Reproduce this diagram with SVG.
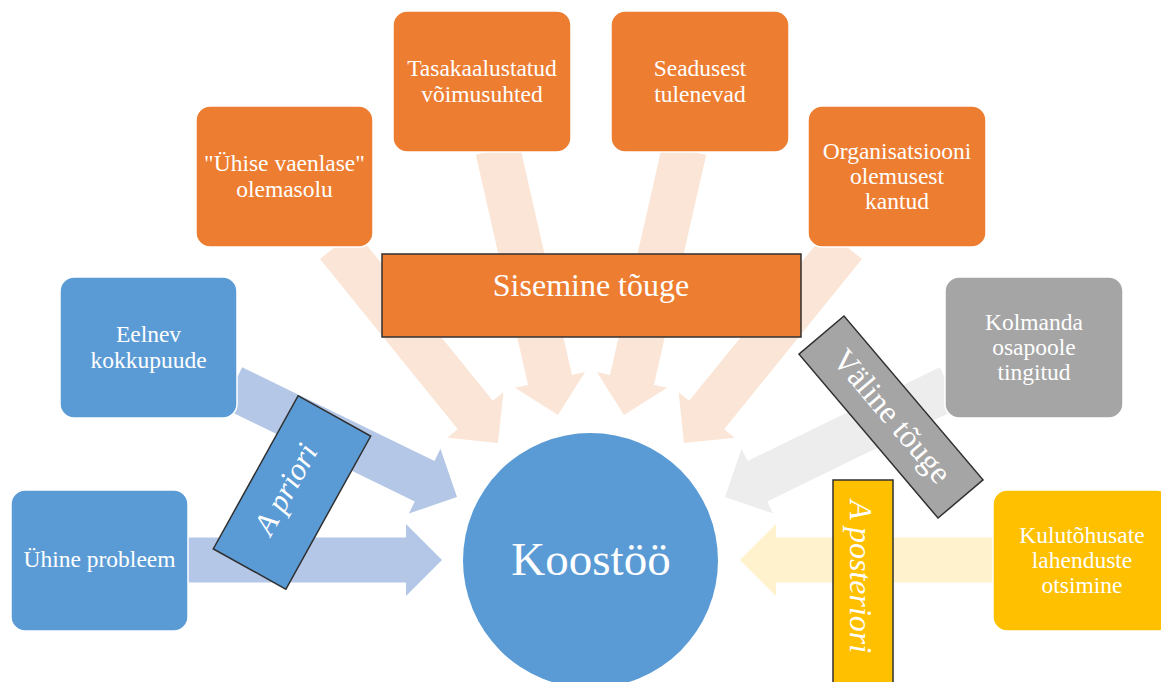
<svg xmlns="http://www.w3.org/2000/svg" width="1161" height="682" viewBox="0 0 1161 682">
  <defs>
    <style>
      .box { stroke: #ffffff; stroke-width: 1.5; }
      .blue { fill: #5B9BD5; }
      .orange { fill: #ED7D31; }
      .gray { fill: #A5A5A5; }
      .yellow { fill: #FFC000; }
      .lbl { font-family: "Liberation Serif", "Times New Roman", serif; fill: #ffffff; font-size: 23.5px; text-anchor: middle; }
      .tag { stroke: #303030; stroke-width: 1.5; }
      .tagtext { font-family: "Liberation Serif", "Times New Roman", serif; fill: #ffffff; font-size: 32px; }
      .arr-blue { fill: #B4C7E7; }
      .arr-orange { fill: #FBE5D6; }
      .arr-gray { fill: #EDEDED; }
      .arr-yellow { fill: #FFF2CC; }
    </style>
  </defs>

  <rect width="1161" height="682" fill="#ffffff"/>

  <!-- block arrows: local frame has the tip at the origin pointing along +x -->
  <g id="connectors">
    <polygon class="arr-blue" transform="translate(442,560) rotate(0)" points="-256,-22.5 -36,-22.5 -36,-36 0,0 -36,36 -36,22.5 -256,22.5"/>
    <polygon class="arr-blue" transform="translate(457,497) rotate(26)" points="-250,-22.5 -36,-22.5 -36,-36 0,0 -36,36 -36,22.5 -250,22.5"/>
    <polygon class="arr-orange" transform="translate(498,443) rotate(51)" points="-255,-22.5 -36,-22.5 -36,-36 0,0 -36,36 -36,22.5 -255,22.5"/>
    <polygon class="arr-orange" transform="translate(558,415) rotate(77.2)" points="-272,-22.5 -36,-22.5 -36,-36 0,0 -36,36 -36,22.5 -272,22.5"/>
    <polygon class="arr-orange" transform="translate(624,415) rotate(102.8)" points="-272,-22.5 -36,-22.5 -36,-36 0,0 -36,36 -36,22.5 -272,22.5"/>
    <polygon class="arr-orange" transform="translate(684,443) rotate(129)" points="-255,-22.5 -36,-22.5 -36,-36 0,0 -36,36 -36,22.5 -255,22.5"/>
    <polygon class="arr-gray" transform="translate(725,497) rotate(154)" points="-250,-22.5 -36,-22.5 -36,-36 0,0 -36,36 -36,22.5 -250,22.5"/>
    <polygon class="arr-yellow" transform="translate(740,560) rotate(180)" points="-256,-22.5 -36,-22.5 -36,-36 0,0 -36,36 -36,22.5 -256,22.5"/>
  </g>

  <!-- centre -->
  <g id="koostoo">
    <circle cx="590.5" cy="560.5" r="127.5" class="blue"/>
    <text x="591" y="575" class="lbl" style="font-size:47px">Koostöö</text>
  </g>

  <!-- source nodes -->
  <g id="yhine-probleem">
    <rect x="11" y="490" width="177" height="141" rx="14" class="box blue"/>
    <text x="99.5" y="567" class="lbl">Ühine probleem</text>
  </g>
  <g id="eelnev-kokkupuude">
    <rect x="60" y="277" width="177" height="141" rx="14" class="box blue"/>
    <text x="148.5" y="342" class="lbl">Eelnev</text>
    <text x="148.5" y="368" class="lbl">kokkupuude</text>
  </g>
  <g id="yhise-vaenlase">
    <rect x="196" y="106" width="177" height="141" rx="14" class="box orange"/>
    <text x="284.5" y="170.5" class="lbl">"Ühise vaenlase"</text>
    <text x="284.5" y="196.5" class="lbl">olemasolu</text>
  </g>
  <g id="tasakaalustatud">
    <rect x="393" y="11" width="178" height="141" rx="14" class="box orange"/>
    <text x="482" y="76" class="lbl">Tasakaalustatud</text>
    <text x="482" y="102" class="lbl">võimusuhted</text>
  </g>
  <g id="seadusest">
    <rect x="611" y="11" width="178" height="141" rx="14" class="box orange"/>
    <text x="700" y="76" class="lbl">Seadusest</text>
    <text x="700" y="102" class="lbl">tulenevad</text>
  </g>
  <g id="organisatsiooni">
    <rect x="808" y="106" width="178" height="141" rx="14" class="box orange"/>
    <text x="897" y="159" class="lbl">Organisatsiooni</text>
    <text x="897" y="184" class="lbl">olemusest</text>
    <text x="897" y="209" class="lbl">kantud</text>
  </g>
  <g id="kolmanda-osapoole">
    <rect x="945" y="277" width="178" height="141" rx="14" class="box gray"/>
    <text x="1034" y="330" class="lbl">Kolmanda</text>
    <text x="1034" y="355" class="lbl">osapoole</text>
    <text x="1034" y="380" class="lbl">tingitud</text>
  </g>
  <g id="kulutohusate">
    <rect x="993" y="490" width="178" height="141" rx="14" class="box yellow"/>
    <text x="1082" y="543" class="lbl">Kulutõhusate</text>
    <text x="1082" y="568" class="lbl">lahenduste</text>
    <text x="1082" y="593" class="lbl">otsimine</text>
  </g>

  <!-- group labels -->
  <g id="sisemine-touge">
    <rect x="382" y="254" width="419" height="83" class="tag orange"/>
    <text x="591" y="296" class="tagtext" text-anchor="middle">Sisemine tõuge</text>
  </g>
  <g id="a-priori" transform="translate(292,492.5) rotate(-61)">
    <rect x="-87.5" y="-41.5" width="175" height="83" class="tag blue"/>
    <text x="0" y="3" class="tagtext" text-anchor="middle" font-style="italic" style="font-size:31px">A priori</text>
  </g>
  <g id="valine-touge" transform="translate(891,417) rotate(49.7)">
    <rect x="-107.5" y="-29.5" width="215" height="59" class="tag gray"/>
    <text x="0" y="9" class="tagtext" text-anchor="middle">Väline tõuge</text>
  </g>
  <g id="a-posteriori">
    <rect x="833" y="480" width="60" height="215" class="tag yellow"/>
    <text transform="translate(850,500) rotate(90)" x="0" y="0" class="tagtext" font-style="italic">A posteriori</text>
  </g>
</svg>
